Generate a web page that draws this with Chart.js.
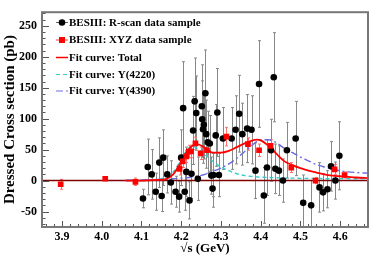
<!DOCTYPE html>
<html>
<head>
<meta charset="utf-8">
<script src="https://cdn.jsdelivr.net/npm/chart.js@4"></script>
<style>
  html, body { margin: 0; padding: 0; background: #fff; }
</style>
</head>
<body>
<canvas id="myChart" width="374" height="258"></canvas>
<script>
// R-scan points (black): energy, cross section, error
const rscanE = [4.104, 4.116, 4.126, 4.136, 4.145, 4.151, 4.155, 4.165, 4.174, 4.186,
  4.195, 4.200, 4.205, 4.209, 4.213, 4.221, 4.226, 4.230, 4.234, 4.238,
  4.242, 4.252, 4.253, 4.255, 4.257, 4.261, 4.263, 4.267, 4.272, 4.276,
  4.279, 4.281, 4.287, 4.291, 4.295, 4.305, 4.327, 4.337, 4.346, 4.354,
  4.366, 4.377, 4.387, 4.396, 4.408, 4.416, 4.426, 4.433, 4.437, 4.446,
  4.456, 4.466, 4.488, 4.507, 4.527, 4.548, 4.557, 4.568, 4.577, 4.588, 4.598];
const rscanXS = [-29, 22, 10, -18, 29, -25, 37, 10, -3, -18,
  -26, 37, 117, -18, 14, -32, 11, 81, 128, 109,
  3, 120, 99, 83, 90, 141, 75, 62, 60, 8,
  -13, 9, 73, 110, 9, 68, 68, 82, 108, 75,
  84, 82, 16, 156, -24, 21, 49, 167, 19, 16,
  0, 49, 68, -36, -40, -11, -19, -14, 23, 0, 40];
const rscanErr = [15, 45, 40, 30, 40, 25, 45, 30, 35, 25,
  25, 45, 75, 30, 40, 30, 40, 55, 70, 60,
  35, 67, 62, 55, 55, 70, 55, 50, 45, 30,
  30, 35, 50, 71, 35, 50, 50, 55, 62, 50,
  55, 55, 45, 70, 45, 45, 50, 72, 40, 40,
  35, 45, 60, 45, 40, 40, 30, 30, 40, 30, 55];

// XYZ points (red)
const xyzE = [3.897, 4.009, 4.085, 4.196, 4.204, 4.213, 4.219, 4.225, 4.236, 4.249,
  4.265, 4.314, 4.368, 4.396, 4.425, 4.477, 4.538, 4.586, 4.611];
const xyzXS = [-6, 3, -2, 19, 31, 39, 47, 47, 60, 44,
  49, 71, 59, 49, 56, 21, 0, 18, 9];
const xyzErr = [8, 3, 6, 10, 10, 10, 10, 10, 10, 10,
  10, 15, 10, 10, 10, 8, 5, 8, 5];

// fit curves
const fitE = [4.06, 4.10, 4.12, 4.14, 4.16, 4.18, 4.20, 4.21, 4.22, 4.23, 4.24,
  4.26, 4.28, 4.30, 4.32, 4.34, 4.36, 4.38, 4.39, 4.40, 4.42, 4.44, 4.46, 4.48,
  4.50, 4.52, 4.54, 4.56, 4.58, 4.60, 4.62, 4.64, 4.67];
const fitTotal = [0, 0, 0.5, 1, 2, 10, 30, 42, 51, 57, 59,
  53, 45, 45, 48, 54, 60, 65, 66, 65, 56, 43, 31, 25,
  20, 16, 13, 10, 8, 7, 6, 5, 4];
const fitY4220 = [0, 0, 0.5, 2, 5, 14, 34, 45, 53, 55, 52,
  42, 31, 22, 16, 11, 8, 6.5, 6, 5.5, 5, 4.5, 4, 4,
  3.5, 3.5, 3.5, 3, 3, 3, 3, 3, 3];
const fitY4390 = [0.5, 1, 1.5, 2, 2.5, 3, 4, 4.5, 5, 6, 7,
  10, 15, 20, 27, 36, 47, 58, 63, 66, 66, 61, 52, 45,
  38, 32, 26, 22, 19, 16, 14, 13, 12];

const zeroE = [3.85, 4.67];
const zeroV = [0, 0];

const xTicks = [3.9, 4.0, 4.1, 4.2, 4.3, 4.4, 4.5, 4.6];
const yTicks = [-50, 0, 50, 100, 150, 200, 250];

const serif = "'Liberation Serif', 'Times New Roman', serif";

function pts(xs, ys) {
  return xs.map((x, i) => ({ x: x, y: ys[i] }));
}

// vertical error bars, through the chart scales
const errorBars = {
  id: "errorBars",
  beforeDatasetsDraw(chart) {
    const c = chart.ctx;
    const xs = chart.scales.x, ys = chart.scales.y;
    const a = chart.chartArea;
    c.save();
    c.beginPath();
    c.rect(a.left, a.top, a.right - a.left, a.bottom - a.top);
    c.clip();
    chart.data.datasets.forEach((ds) => {
      if (!ds.errors) return;
      c.strokeStyle = ds.errColor;
      c.lineWidth = 1;
      ds.data.forEach((p, i) => {
        const px = Math.round(xs.getPixelForValue(p.x)) + 0.5;
        const top = ys.getPixelForValue(p.y + ds.errors[i]);
        const bot = ys.getPixelForValue(p.y - ds.errors[i]);
        c.beginPath();
        c.moveTo(px, top); c.lineTo(px, bot);
        c.moveTo(px - 1.5, top); c.lineTo(px + 1.5, top);
        c.moveTo(px - 1.5, bot); c.lineTo(px + 1.5, bot);
        c.stroke();
      });
    });
    c.restore();
  },
};

// ROOT-like frame, inner ticks and legend box
const rootStyle = {
  id: "rootStyle",
  afterDraw(chart) {
    const c = chart.ctx;
    const a = chart.chartArea;
    const xs = chart.scales.x, ys = chart.scales.y;
    c.save();
    c.strokeStyle = "#555";
    c.lineWidth = 1;
    c.beginPath();
    // y ticks
    for (let v = -70; v <= 270; v += 10) {
      const py = Math.round(ys.getPixelForValue(v)) + 0.5;
      const len = v % 50 === 0 ? 7 : 3.5;
      c.moveTo(a.left, py); c.lineTo(a.left + len, py);
    }
    // x ticks
    for (let k = 193; k <= 233; k++) {
      const v = k * 0.02;
      const px = Math.round(xs.getPixelForValue(v)) + 0.5;
      const len = k % 5 === 0 ? 6 : 3;
      c.moveTo(px, a.bottom); c.lineTo(px, a.bottom - len);
    }
    c.stroke();
    c.strokeStyle = "#777";
    c.lineWidth = 2;
    c.strokeRect(a.left, a.top, a.right - a.left, a.bottom - a.top);

    // legend
    const rows = [22.5, 40, 57.5, 74.5, 91];
    const x0 = 56, x1 = 68, xm = 62;
    c.font = "bold 11px " + serif;
    c.textBaseline = "middle";
    c.fillStyle = "#000";
    chart.data.datasets.slice(0, 5).forEach((ds, i) => {
      const y = rows[i];
      c.save();
      c.lineWidth = ds.legendWidth || 1;
      c.strokeStyle = ds.legendLine;
      c.setLineDash(ds.borderDash || []);
      c.beginPath();
      c.moveTo(x0, y); c.lineTo(x1, y);
      c.stroke();
      c.setLineDash([]);
      if (i === 0) {
        c.fillStyle = "#000";
        c.beginPath(); c.arc(xm, y, 3.3, 0, Math.PI * 2); c.fill();
      } else if (i === 1) {
        c.fillStyle = "#ff0000";
        c.fillRect(xm - 3, y - 3, 6, 6);
      }
      c.restore();
      c.fillText(ds.label, 69, y + 0.5);
    });
    c.restore();
  },
};

const ctx = document.getElementById("myChart").getContext("2d");
const myChart = new Chart(ctx, {
  type: "scatter",
  data: {
    datasets: [
      {
        label: "BESIII: R-scan data sample",
        data: pts(rscanE, rscanXS),
        errors: rscanErr,
        errColor: "#888888",
        legendLine: "#666",
        pointStyle: "circle",
        pointRadius: 3.3,
        backgroundColor: "#000",
        borderColor: "#000",
        borderWidth: 0,
        order: 1,
      },
      {
        label: "BESIII: XYZ data sample",
        data: pts(xyzE, xyzXS),
        errors: xyzErr,
        errColor: "#ff7070",
        legendLine: "#ff4040",
        pointStyle: "rect",
        pointRadius: 4,
        backgroundColor: "#ff0000",
        borderColor: "#ff0000",
        borderWidth: 0,
        order: 0,
      },
      {
        label: "Fit curve: Total",
        data: pts(fitE, fitTotal),
        showLine: true,
        pointRadius: 0,
        borderColor: "#ff0000",
        legendLine: "#ff0000",
        legendWidth: 1.5,
        borderWidth: 1.8,
        cubicInterpolationMode: "monotone",
        order: 2,
      },
      {
        label: "Fit curve: Y(4220)",
        data: pts(fitE, fitY4220),
        showLine: true,
        pointRadius: 0,
        borderColor: "#33cccc",
        legendLine: "#33cccc",
        borderWidth: 1.4,
        borderDash: [4, 3],
        cubicInterpolationMode: "monotone",
        order: 3,
      },
      {
        label: "Fit curve: Y(4390)",
        data: pts(fitE, fitY4390),
        showLine: true,
        pointRadius: 0,
        borderColor: "#6a6ae0",
        legendLine: "#6a6ae0",
        borderWidth: 1.4,
        borderDash: [7, 3, 2, 3],
        cubicInterpolationMode: "monotone",
        order: 3,
      },
      {
        label: "zero",
        data: pts(zeroE, zeroV),
        showLine: true,
        pointRadius: 0,
        borderColor: "#800000",
        borderWidth: 1.5,
        order: 4,
      },
    ],
  },
  options: {
    responsive: false,
    animation: false,
    layout: { padding: { top: 5, right: 6, left: 0, bottom: 0 } },
    plugins: {
      legend: { display: false },
      tooltip: { enabled: false },
    },
    scales: {
      x: {
        type: "linear",
        min: 3.85,
        max: 4.67,
        afterFit: (s) => { s.height = 31; },
        afterBuildTicks: (s) => { s.ticks = xTicks.map((v) => ({ value: v })); },
        grid: { display: false, drawTicks: false },
        border: { display: false },
        ticks: {
          padding: 3,
          color: "#000",
          font: { family: serif, size: 12, weight: "bold" },
          callback: (v) => Number(v).toFixed(1),
        },
        title: {
          display: true,
          text: "√s (GeV)",
          color: "#000",
          padding: { top: 0, bottom: 2 },
          font: { family: serif, size: 13, weight: "bold" },
        },
      },
      y: {
        type: "linear",
        min: -75,
        max: 272,
        afterFit: (s) => { s.width = 42; },
        afterBuildTicks: (s) => { s.ticks = yTicks.map((v) => ({ value: v })); },
        grid: { display: false, drawTicks: false },
        border: { display: false },
        ticks: {
          padding: 5,
          color: "#000",
          font: { family: serif, size: 12, weight: "bold" },
        },
        title: {
          display: true,
          text: "Dressed Cross section (pb)",
          color: "#000",
          padding: { top: 1, bottom: 1 },
          font: { family: serif, size: 15, weight: "bold" },
        },
      },
    },
  },
  plugins: [errorBars, rootStyle],
});
</script>
</body>
</html>
